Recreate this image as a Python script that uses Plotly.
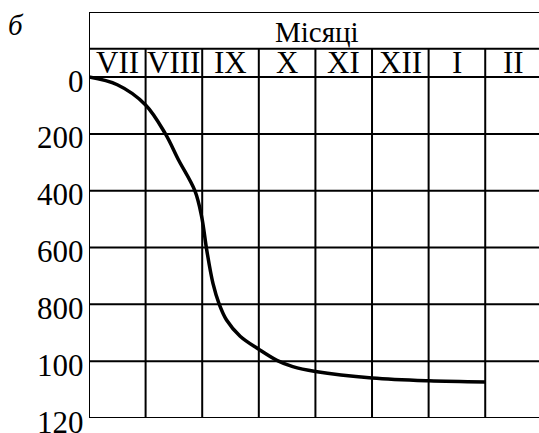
import plotly.graph_objects as go

# ── data ─────────────────────────────────────────────────────────────────────
months = ["VII", "VIII", "IX", "X", "XI", "XII", "I", "II"]
header = "Місяці"
panel_label = "б"

depth_ticks = [0, 200, 400, 600, 800, 1000, 1200]
depth_ticktext = ["0", "200", "400", "600", "800", "100", "120"]

# time in months from start of VII, depth value
curve_t = [0, 0.5, 1.0, 1.35, 1.58, 1.87, 1.99, 2.08, 2.19, 2.30, 2.43, 2.67,
           3.0, 3.32, 3.6, 4.0, 5.0, 6.0, 7.0]
curve_d = [0, 27, 98, 200, 291, 400, 491, 609, 726, 799, 855, 912,
           958, 997, 1019, 1036, 1059, 1069, 1073]

HEAD_MID = -100   # line between "Місяці" and month names
HEAD_TOP = -229   # top border of the table
X_MAX = 7.95      # image is cut just before the end of the last cell

FONT = "Liberation Serif, Times New Roman, serif"
LINE = dict(color="black", width=2)

fig = go.Figure()

fig.add_trace(go.Scatter(x=curve_t, y=curve_d, mode="lines",
                         line=dict(color="black", width=3.5, shape="spline", smoothing=1.0),
                         hoverinfo="skip", showlegend=False))

shapes = []
# horizontal grid lines
for d in depth_ticks:
    shapes.append(dict(type="line", x0=0, x1=X_MAX, y0=d, y1=d, line=LINE))
shapes.append(dict(type="line", x0=0, x1=X_MAX, y0=HEAD_MID, y1=HEAD_MID, line=LINE))
shapes.append(dict(type="line", x0=0, x1=X_MAX, y0=HEAD_TOP, y1=HEAD_TOP, line=LINE))
# vertical grid lines
for i in range(len(months)):
    top = HEAD_TOP if i == 0 else HEAD_MID
    shapes.append(dict(type="line", x0=i, x1=i, y0=top, y1=depth_ticks[-1], line=LINE))

annotations = []
for i, m in enumerate(months):
    annotations.append(dict(x=i + 0.5, y=HEAD_MID / 2 - 2, text=m, showarrow=False,
                            font=dict(family=FONT, size=31, color="black")))
annotations.append(dict(x=4.02, y=-157, text=header, showarrow=False,
                        font=dict(family=FONT, size=29, color="black")))
# depth labels left of the table (the bottom one would be dropped as an axis tick label)
for d, t in zip(depth_ticks, depth_ticktext):
    annotations.append(dict(x=0, y=d, xref="paper", yref="y", xanchor="right",
                            yanchor="middle", xshift=-3, yshift=-4, text=t, showarrow=False,
                            font=dict(family=FONT, size=31, color="black")))
# panel label, placed in paper coords (pixel position 16, 25 of the image)
annotations.append(dict(x=(16 - 89) / (539 - 89), y=(433 - 15 - 25) / (433 - 12 - 15),
                        xref="paper", yref="paper", xanchor="center", yanchor="middle",
                        text=f"<i>{panel_label}</i>", showarrow=False,
                        font=dict(family=FONT, size=29, color="black")))

fig.update_layout(
    width=539, height=433,
    margin=dict(l=89, r=0, t=12, b=15, autoexpand=False),
    paper_bgcolor="white", plot_bgcolor="white",
    showlegend=False,
    shapes=shapes,
    annotations=annotations,
    xaxis=dict(range=[0, X_MAX], showgrid=False, zeroline=False, showticklabels=False,
               showline=False, fixedrange=True, automargin=False),
    yaxis=dict(range=[depth_ticks[-1], HEAD_TOP], showgrid=False, zeroline=False,
               showline=False, showticklabels=False, automargin=False, fixedrange=True),
)

fig.write_html("out.html", config={"displayModeBar": False},
               post_script="document.body.style.margin='0';")
